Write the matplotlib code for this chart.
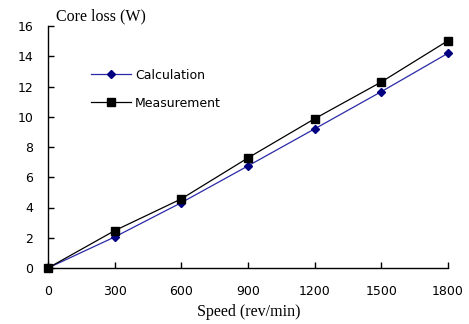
import matplotlib
matplotlib.use("Agg")
import matplotlib.pyplot as plt

speed = [0, 300, 600, 900, 1200, 1500, 1800]
calculation = [0, 2.05, 4.32, 6.75, 9.2, 11.66, 14.2]
measurement = [0, 2.47, 4.57, 7.28, 9.87, 12.3, 15.03]
xticks = [0, 300, 600, 900, 1200, 1500, 1800]
yticks = [0, 2, 4, 6, 8, 10, 12, 14, 16]

fig = plt.figure(figsize=(4.69, 3.24), dpi=100)
ax = fig.add_axes([48/469, 1 - 268/324, 400/469, 242/324])

ax.plot(speed, calculation, color="#2a2aa8", lw=0.9, marker="D", ms=4,
        mfc="#000080", mec="#000080", label="Calculation", clip_on=False, zorder=3)
ax.plot(speed, measurement, color="black", lw=0.9, marker="s", ms=5.5,
        mfc="black", mec="black", label="Measurement", clip_on=False, zorder=3)

ax.set_xlim(0, 1800)
ax.set_ylim(0, 16)
ax.set_xticks(xticks)
ax.set_yticks(yticks)
for s in ["top", "right"]:
    ax.spines[s].set_visible(False)
for s in ["left", "bottom"]:
    ax.spines[s].set_linewidth(1.0)
ax.tick_params(direction="in", length=4, width=1.0, labelsize=9)
for lab in ax.get_xticklabels() + ax.get_yticklabels():
    lab.set_family("DejaVu Sans")
ax.tick_params(axis="x", pad=12)
ax.tick_params(axis="y", pad=10.5)

fig.text(101/469, 1 - 16/324, "Core loss (W)", family="Liberation Serif",
         fontsize=11.5, ha="center", va="center")
fig.text(249/469, 1 - 312/324, "Speed (rev/min)", family="Liberation Serif",
         fontsize=11.5, ha="center", va="center")

leg = ax.legend(loc="upper left", bbox_to_anchor=(0.08, 0.87), frameon=False,
                prop={"family": "DejaVu Sans", "size": 9},
                handlelength=3.2, handletextpad=0.3, labelspacing=1.2)

fig.savefig("out.png", dpi=100)
